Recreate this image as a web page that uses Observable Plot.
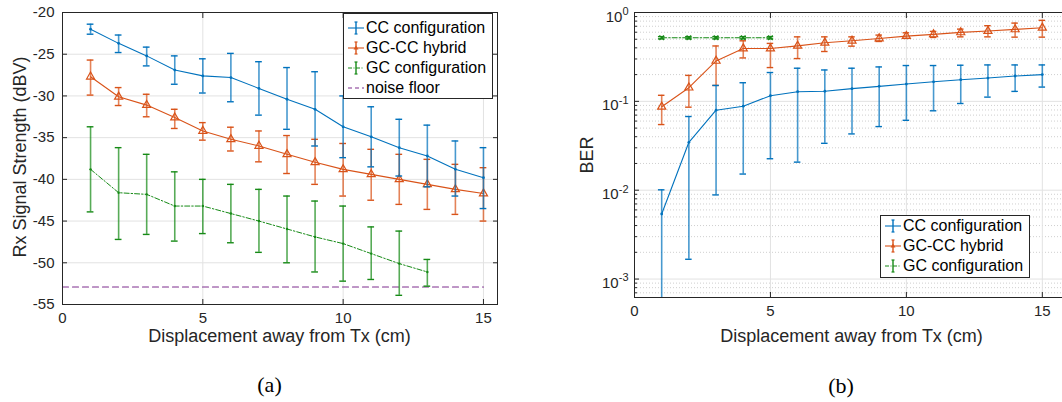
<!DOCTYPE html>
<html><head><meta charset="utf-8">
<script src="https://cdn.jsdelivr.net/npm/d3@7"></script>
<script src="https://cdn.jsdelivr.net/npm/@observablehq/plot@0.6"></script>
<style>
body{margin:0;background:#fff;font-family:"Liberation Sans",Arial,Helvetica,sans-serif;}
#wrap{position:relative;width:1062px;height:402px;overflow:hidden;}
.panel{position:absolute;top:0;}
.lbl{position:absolute;font-size:18px;line-height:18px;color:#262626;white-space:nowrap;transform:translate(-50%,-50%);}
.lbl.rot{transform:translate(-50%,-50%) rotate(-90deg);}
.cap{position:absolute;font-family:"Liberation Serif","Times New Roman",serif;font-size:22px;line-height:22px;color:#000;transform:translate(-50%,-50%);}
.legend{position:absolute;box-sizing:border-box;background:#fff;border:1px solid #262626;font-size:16px;color:#000;}
.row{height:20px;line-height:20px;display:flex;align-items:center;white-space:nowrap;}
.row svg{flex:none;margin-right:1px;}
</style></head>
<body><div id="wrap"></div>
<script>
// ---------------- data ----------------
const displacement = [1,2,3,4,5,6,7,8,9,10,11,12,13,14,15];
const displacementGC = [1,2,3,4,5,6,7,8,9,10,11,12,13];
const displacementGCber = [1,2,3,4,5];

// (a) Rx signal strength (dBV)
const ccSignal   = [-22.0,-23.7,-25.2,-26.9,-27.6,-27.8,-29.1,-30.4,-31.6,-33.7,-34.9,-36.2,-37.2,-38.8,-39.8];
const ccSignalHi = [-21.4,-22.7,-24.15,-25.2,-25.55,-24.9,-25.9,-26.6,-27.1,-30.0,-31.3,-32.8,-33.5,-35.4,-36.2];
const ccSignalLo = [-22.6,-24.8,-26.4,-28.6,-29.65,-30.7,-32.3,-34.0,-36.0,-37.4,-38.5,-39.6,-40.9,-42.0,-43.5];

const hySignal   = [-27.7,-30.1,-31.1,-32.6,-34.2,-35.2,-36.0,-37.0,-37.95,-38.8,-39.4,-40.0,-40.6,-41.2,-41.7];
const hySignalHi = [-25.7,-29.0,-29.8,-31.6,-33.2,-33.75,-34.2,-34.75,-35.2,-35.7,-36.4,-37.0,-37.6,-38.2,-38.6];
const hySignalLo = [-29.9,-31.15,-32.5,-33.9,-35.3,-36.6,-37.9,-39.3,-40.6,-42.0,-42.5,-43.0,-43.6,-44.2,-45.0];

const gcSignal   = [-38.8,-41.6,-41.8,-43.2,-43.2,-44.1,-45.0,-45.95,-46.9,-47.7,-48.9,-50.1,-51.1];
const gcSignalHi = [-33.7,-36.2,-37.0,-39.1,-40.0,-40.6,-41.2,-42.0,-42.6,-43.2,-45.7,-46.2,-49.6];
const gcSignalLo = [-43.9,-47.2,-46.6,-47.4,-46.5,-47.6,-48.75,-50.0,-51.1,-52.2,-52.0,-53.9,-52.8];

const noiseFloor = -52.9;
const noiseFloorX = [0,15];

// (b) BER
const ccBer   = [0.0054,0.0346,0.0795,0.0882,0.1157,0.1285,0.130,0.139,0.1475,0.1566,0.166,0.1753,0.183,0.193,0.200];
const ccBerHi = [0.0101,0.0675,0.151,0.162,0.211,0.236,0.2255,0.236,0.244,0.253,0.253,0.255,0.257,0.257,0.257];
const ccBerLo = [0.0001,0.00167,0.00885,0.0152,0.0226,0.0207,0.0337,0.043,0.052,0.0612,0.0783,0.0946,0.1116,0.1294,0.1448];

const hyBer   = [0.0869,0.1425,0.285,0.393,0.393,0.421,0.456,0.48,0.51,0.542,0.567,0.597,0.618,0.645,0.673];
const hyBerHi = [0.117,0.196,0.42,0.48,0.449,0.532,0.532,0.532,0.557,0.591,0.613,0.65,0.71,0.76,0.816];
const hyBerLo = [0.0548,0.086,0.151,0.308,0.24,0.303,0.364,0.418,0.472,0.511,0.524,0.532,0.532,0.528,0.528];

const gcBer   = [0.52,0.52,0.52,0.52,0.52];
const gcBerHi = [0.535,0.535,0.535,0.535,0.535];
const gcBerLo = [0.505,0.505,0.505,0.505,0.505];

// ticks and labels
const xTicks = [0,5,10,15];
const yTicksA = [-55,-50,-45,-40,-35,-30,-25,-20];
const yTicksB = [0.001,0.01,0.1,1];
const seriesNames = ["CC configuration","GC-CC hybrid","GC configuration","noise floor"];
const xLabel = "Displacement away from Tx (cm)";
const yLabelA = "Rx Signal Strength (dBV)";
const yLabelB = "BER";

// ---------------- styles ----------------
const FONT = '"Liberation Sans", Arial, Helvetica, sans-serif';
const AX = "#262626";
const GRID = "#e2e2e2";
const BLUE = "#0072BD", ORANGE = "#D95319", GREEN = "#168a16", PURPLE = "#7E2F8E";
const DASHDOT = "5,2,1.5,2";

const table = (xs, v, hi, lo) => xs.map((x,i)=>({x, v:v[i], hi:hi[i], lo:lo[i]}));
const cw = 0.12;
function errMarks(data, color, clip=false){
  return [
    Plot.ruleX(data, {x:"x", y1:"lo", y2:"hi", stroke:color, strokeWidth:1.6, strokeOpacity:0.72, clip}),
    Plot.ruleY(data, {y:"hi", x1:d=>d.x-cw, x2:d=>d.x+cw, stroke:color, strokeWidth:1.4, clip}),
    Plot.ruleY(data, {y:"lo", x1:d=>d.x-cw, x2:d=>d.x+cw, stroke:color, strokeWidth:1.4, clip})
  ];
}

const wrap = document.getElementById("wrap");

// ---------------- panel (a) ----------------
const cc = table(displacement, ccSignal, ccSignalHi, ccSignalLo);
const hy = table(displacement, hySignal, hySignalHi, hySignalLo);
const gc = table(displacementGC, gcSignal, gcSignalHi, gcSignalLo);
const noise = noiseFloorX.map(x=>({x, v:noiseFloor}));

const panelA = Plot.plot({
  width:510, height:345, marginLeft:62, marginRight:13, marginTop:12, marginBottom:41,
  style:{fontFamily:FONT, fontSize:"15px", color:AX, background:"transparent", overflow:"visible"},
  x:{domain:[0,15.5]},
  y:{domain:[-55,-20]},
  marks:[
    Plot.gridX(xTicks, {stroke:GRID, strokeOpacity:1}),
    Plot.gridY(yTicksA, {stroke:GRID, strokeOpacity:1}),
    Plot.axisX(xTicks, {anchor:"bottom", tickSize:0, tickPadding:8, label:null, tickFormat:d=>String(d), fill:AX}),
    Plot.axisY(yTicksA, {anchor:"left", tickSize:0, tickPadding:8, label:null, tickFormat:d=>String(d), fill:AX}),
    Plot.axisX(xTicks, {anchor:"bottom", tickSize:-5, fill:"none", label:null, stroke:AX}),
    Plot.axisX(xTicks, {anchor:"top", tickSize:-5, fill:"none", label:null, stroke:AX}),
    Plot.axisY(yTicksA, {anchor:"left", tickSize:-5, fill:"none", label:null, stroke:AX}),
    Plot.axisY(yTicksA, {anchor:"right", tickSize:-5, fill:"none", label:null, stroke:AX}),
    Plot.line(noise, {x:"x", y:"v", stroke:PURPLE, strokeWidth:1.2, strokeDasharray:"6,4"}),
    ...errMarks(gc, GREEN),
    Plot.line(gc, {x:"x", y:"v", stroke:GREEN, strokeWidth:1, strokeDasharray:DASHDOT}),
    Plot.dot(gc, {x:"x", y:"v", r:1.2, fill:GREEN}),
    ...errMarks(hy, ORANGE),
    Plot.line(hy, {x:"x", y:"v", stroke:ORANGE, strokeWidth:1.1}),
    Plot.dot(hy, {x:"x", y:"v", symbol:"triangle", r:3, stroke:ORANGE, fill:"none", strokeWidth:1.2}),
    ...errMarks(cc, BLUE),
    Plot.line(cc, {x:"x", y:"v", stroke:BLUE, strokeWidth:1.1}),
    Plot.dot(cc, {x:"x", y:"v", r:1.4, fill:BLUE}),
    Plot.frame({stroke:AX, strokeWidth:1})
  ]
});
panelA.classList.add("panel");
panelA.style.left = "0px";
wrap.appendChild(panelA);

// ---------------- panel (b) ----------------
const ccB = table(displacement, ccBer, ccBerHi, ccBerLo);
const hyB = table(displacement, hyBer, hyBerHi, hyBerLo);
const gcB = table(displacementGCber, gcBer, gcBerHi, gcBerLo);
const minorB = [];
for (const dec of [0.0001,0.001,0.01,0.1]) for (let m=2;m<=9;m++){ const v=m*dec; if (v>=0.00062 && v<1) minorB.push(v); }

const panelB = Plot.plot({
  width:510, height:345, marginLeft:74, marginRight:1, marginTop:12, marginBottom:48,
  style:{fontFamily:FONT, fontSize:"15px", color:AX, background:"transparent", overflow:"visible"},
  x:{domain:[0,16]},
  y:{type:"log", domain:[0.00062,1]},
  marks:[
    Plot.gridY(minorB, {stroke:"#cfcfcf", strokeOpacity:1, strokeDasharray:"1,2"}),
    Plot.gridX(xTicks.filter(d=>d>0), {stroke:GRID, strokeOpacity:1}),
    Plot.gridY(yTicksB, {stroke:GRID, strokeOpacity:1}),
    Plot.axisX(xTicks, {anchor:"bottom", tickSize:0, tickPadding:8, label:null, tickFormat:d=>String(d), fill:AX}),
    Plot.axisY(yTicksB, {anchor:"left", tickSize:0, tickPadding:6, label:null, tickFormat:d=>"10^"+Math.round(Math.log10(d)), fill:AX}),
    Plot.axisX(xTicks, {anchor:"bottom", tickSize:-5, fill:"none", label:null, stroke:AX}),
    Plot.axisX(xTicks, {anchor:"top", tickSize:-5, fill:"none", label:null, stroke:AX}),
    Plot.axisY(yTicksB, {anchor:"left", tickSize:-5, fill:"none", label:null, stroke:AX}),
    Plot.axisY(minorB, {anchor:"left", tickSize:-3, fill:"none", label:null, stroke:AX}),
    ...errMarks(gcB, GREEN),
    Plot.line(gcB, {x:"x", y:"v", stroke:GREEN, strokeWidth:1.1, strokeDasharray:DASHDOT}),
    Plot.dot(gcB, {x:"x", y:"v", symbol:"times", r:2.2, stroke:GREEN, strokeWidth:1.2}),
    ...errMarks(hyB, ORANGE),
    Plot.line(hyB, {x:"x", y:"v", stroke:ORANGE, strokeWidth:1.1}),
    Plot.dot(hyB, {x:"x", y:"v", symbol:"triangle", r:3, stroke:ORANGE, fill:"none", strokeWidth:1.2}),
    ...errMarks(ccB, BLUE, true),
    Plot.line(ccB, {x:"x", y:"v", stroke:BLUE, strokeWidth:1.1}),
    Plot.dot(ccB, {x:"x", y:"v", r:1.4, fill:BLUE}),
    Plot.frame({stroke:AX, strokeWidth:1})
  ]
});
panelB.classList.add("panel");
panelB.style.left = "560px";
wrap.appendChild(panelB);

// superscript exponents on log tick labels
d3.select(panelB).selectAll('g[aria-label="y-axis tick label"] text').each(function(){
  const t = this.textContent;
  if (!t.includes("^")) return;
  const [b,e] = t.split("^");
  const sel = d3.select(this); sel.text("");
  sel.append("tspan").attr("dy","0.28em").text(b);
  sel.append("tspan").attr("dy","-0.6em").attr("font-size","11px").text(e);
});

// ---------------- labels ----------------
function addDiv(cls, text, x, y){
  const d = document.createElement("div"); d.className = cls; d.textContent = text;
  d.style.left = x+"px"; d.style.top = y+"px"; wrap.appendChild(d); return d;
}
addDiv("lbl rot", yLabelA, 20, 157);
addDiv("lbl", xLabel, 279.5, 336);
addDiv("cap", "(a)", 269.5, 385);
addDiv("lbl rot", yLabelB, 587, 155);
addDiv("lbl", xLabel, 851.5, 336);
addDiv("cap", "(b)", 841, 386);

// ---------------- legends ----------------
function glyph(color, kind){
  const s = d3.create("svg").attr("width",18).attr("height",20);
  if (kind === "noise"){
    s.append("line").attr("x1",1).attr("x2",17).attr("y1",10).attr("y2",10).attr("stroke",color).attr("stroke-width",1.2).attr("stroke-dasharray","4,3");
    return s.node();
  }
  s.append("line").attr("x1",1).attr("x2",17).attr("y1",10).attr("y2",10).attr("stroke",color).attr("stroke-width",1.1)
    .attr("stroke-dasharray", kind==="gc" ? "4,1.5,1,1.5" : null);
  s.append("line").attr("x1",9).attr("x2",9).attr("y1",4).attr("y2",16).attr("stroke",color).attr("stroke-width",1.4);
  s.append("line").attr("x1",7.5).attr("x2",10.5).attr("y1",4).attr("y2",4).attr("stroke",color).attr("stroke-width",1.2);
  s.append("line").attr("x1",7.5).attr("x2",10.5).attr("y1",16).attr("y2",16).attr("stroke",color).attr("stroke-width",1.2);
  if (kind==="hy") s.append("path").attr("d","M9,7.5L11.5,11.5L6.5,11.5Z").attr("fill",color);
  return s.node();
}
function legend(x, y, w, h, padTop, items){
  const L = document.createElement("div"); L.className="legend";
  Object.assign(L.style, {left:x+"px", top:y+"px", width:w+"px", height:h+"px", paddingTop:padTop+"px", paddingLeft:"3px"});
  for (const [name,color,kind] of items){
    const r = document.createElement("div"); r.className="row";
    r.appendChild(glyph(color,kind));
    const sp = document.createElement("span"); sp.textContent = name; r.appendChild(sp);
    L.appendChild(r);
  }
  wrap.appendChild(L);
}
legend(343, 13, 150, 86, 4, [[seriesNames[0],BLUE,"cc"],[seriesNames[1],ORANGE,"hy"],[seriesNames[2],GREEN,"gc"],[seriesNames[3],PURPLE,"noise"]]);
legend(880, 215, 150, 63, 0, [[seriesNames[0],BLUE,"cc"],[seriesNames[1],ORANGE,"hy"],[seriesNames[2],GREEN,"gc"]]);
</script>
</body></html>
